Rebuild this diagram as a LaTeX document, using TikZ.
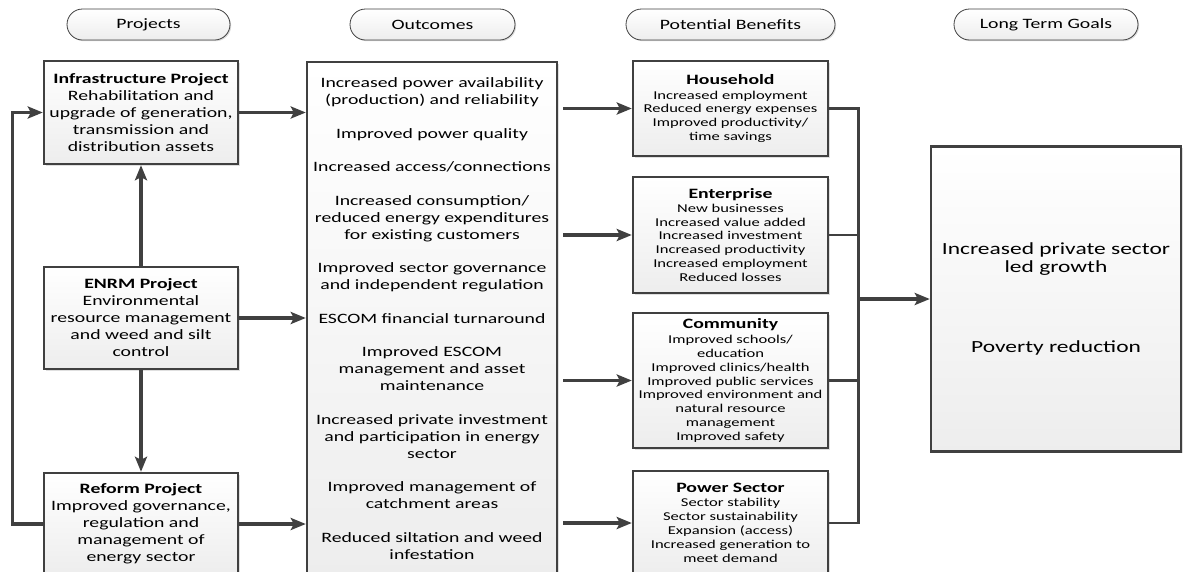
\documentclass[tikz,border=0pt]{standalone}
\usepackage{fontspec}
\setmainfont{Carlito}[FakeStretch=1.38]
\usetikzlibrary{arrows.meta,shadows}

\definecolor{linegray}{HTML}{404040}

\newcommand{\mainsize}{\fontsize{14.3}{17}\selectfont}
\newcommand{\smallsize}{\fontsize{12}{13.9}\selectfont}

\tikzset{
  box/.style={draw=linegray, line width=2.4pt, top color=white, bottom color=gray!14,
              inner sep=0pt, align=center, text=black,
              drop shadow={opacity=0.25, shadow xshift=1.5pt, shadow yshift=-1.5pt}},
  pill/.style={draw=linegray, line width=0.8pt, rounded corners=15.5pt, minimum height=31pt,
               top color=white, bottom color=gray!14, font=\mainsize,
               drop shadow={opacity=0.3, shadow xshift=1.2pt, shadow yshift=-1.2pt}},
  arr/.style={draw=linegray, line width=3.2pt, -{Stealth[length=15pt, width=12pt, inset=3pt]}},
  link/.style={draw=linegray, line width=2.6pt}
}

\begin{document}
\begin{tikzpicture}[x=1pt, y=-1pt]
  \useasboundingbox (0,0) rectangle (1187,571);

  % column headers
  \node[pill, minimum width=163pt] (hproj) at (148.5,24.5) {Projects};
  \node[pill, minimum width=165pt] (hout) at (432.5,24.5) {Outcomes};
  \node[pill, minimum width=209pt] (hben) at (730.5,24.5) {Potential Benefits};
  \node[pill, minimum width=184pt] (hgoal) at (1046,24.5) {Long Term Goals};

  % projects
  \node[box, font=\mainsize, minimum width=194pt, minimum height=103pt] (infra) at (141,112.5)
    {\textbf{Infrastructure Project}\\Rehabilitation and\\upgrade of generation,\\transmission and\\distribution assets};
  \node[box, font=\mainsize, minimum width=194pt, minimum height=102pt] (enrm) at (141,318)
    {\textbf{ENRM Project}\\Environmental\\resource management\\and weed and silt\\control};
  \node[box, font=\mainsize, minimum width=194pt, minimum height=102pt] (reform) at (141,524)
    {\textbf{Reform Project}\\Improved governance,\\regulation and\\management of\\energy sector};

  % outcomes
  \node[box, font=\mainsize, minimum width=250pt, minimum height=513pt] (outcomes) at (432,318.5)
    {Increased power availability\\(production) and reliability\\[16.5pt]
     Improved power quality\\[16.5pt]
     Increased access/connections\\[16.5pt]
     Increased consumption/\\reduced energy expenditures\\for existing customers\\[16.5pt]
     Improved sector governance\\and independent regulation\\[16.5pt]
     ESCOM financial turnaround\\[16.5pt]
     Improved ESCOM\\management and asset\\maintenance\\[16.5pt]
     Increased private investment\\and participation in energy\\sector\\[16.5pt]
     Improved management of\\catchment areas\\[16.5pt]
     Reduced siltation and weed\\infestation};

  % potential benefits
  \node[box, font=\smallsize, minimum width=195pt, minimum height=95pt] (house) at (730.5,108.5)
    {{\mainsize\textbf{Household}}\\[1pt]Increased employment\\Reduced energy expenses\\Improved productivity/\\time savings};
  \node[box, font=\smallsize, minimum width=195pt, minimum height=116pt] (ent) at (730.5,235)
    {{\mainsize\textbf{Enterprise}}\\[0pt]New businesses\\Increased value added\\Increased investment\\Increased productivity\\Increased employment\\Reduced losses};
  \node[box, font=\smallsize, minimum width=195pt, minimum height=135pt] (comm) at (730.5,380.5)
    {{\mainsize\textbf{Community}}\\[1pt]Improved schools/\\education\\Improved clinics/health\\Improved public services\\Improved environment and\\natural resource\\management\\Improved safety};
  \node[box, font=\smallsize, minimum width=195pt, minimum height=104pt] (power) at (730.5,523)
    {{\mainsize\textbf{Power Sector}}\\[0pt]Sector stability\\Sector sustainability\\Expansion (access)\\Increased generation to\\meet demand};

  % long term goals
  \node[box, font=\fontsize{17}{18}\selectfont, minimum width=250pt, minimum height=305pt] (goal) at (1056,299)
    {Increased private sector\\led growth\\[62pt]Poverty reduction};

  % project links
  \draw[arr] (enrm.north) -- (infra.south);
  \draw[arr] (enrm.south) -- (reform.north);
  \draw[arr] (reform.west) -- ++(-30,0) |- (infra.west);
  \draw[arr] (infra.east) -- (infra.east -| outcomes.west);
  \draw[arr] (enrm.east) -- (enrm.east -| outcomes.west);
  \draw[arr] (reform.east) -- (reform.east -| outcomes.west);

  % outcomes to benefits
  \draw[arr, shorten <=5pt] (house.west -| outcomes.east) -- (house.west);
  \draw[arr, shorten <=5pt] (ent.west -| outcomes.east) -- (ent.west);
  \draw[arr, shorten <=5pt] (comm.west -| outcomes.east) -- (comm.west);
  \draw[arr, shorten <=5pt] (power.west -| outcomes.east) -- (power.west);

  % benefits to goals
  \draw[link] (house.east) -- ++(29,0) coordinate (bus) -- (bus |- power.east) -- (power.east);
  \draw[link] (ent.east) -- (ent.east -| bus);
  \draw[link] (comm.east) -- (comm.east -| bus);
  \draw[arr] (bus |- goal.west) -- (goal.west);
\end{tikzpicture}
\end{document}
